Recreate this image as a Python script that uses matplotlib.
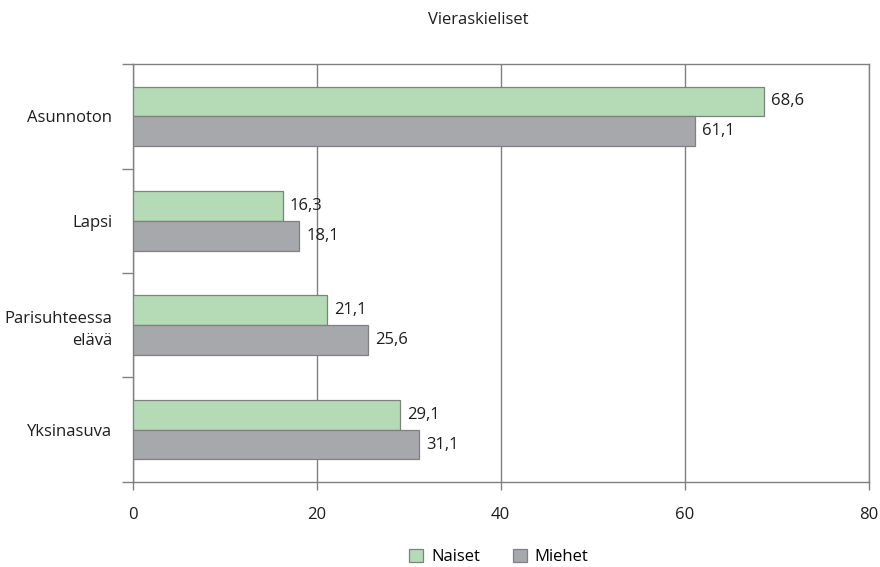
import matplotlib
matplotlib.use('Agg')
import matplotlib.pyplot as plt
import numpy as np
from matplotlib.patches import Patch

# data
categories = ['Asunnoton', 'Lapsi', 'Parisuhteessa\nelävä', 'Yksinasuva']
naiset = [68.6, 16.3, 21.1, 29.1]
miehet = [61.1, 18.1, 25.6, 31.1]
series_names = ['Naiset', 'Miehet']
xticks = [0, 20, 40, 60, 80]

GREEN = '#b4dbb6'
GREY = '#a7a8ac'
EDGE = '#808080'
TXT = '#1e1e1e'

plt.rcParams['font.family'] = ['Open Sans', 'DejaVu Sans']
plt.rcParams['font.size'] = 12

fig = plt.figure(figsize=(8.8, 5.67), dpi=100)
ax = fig.add_axes([0.151, 0.150, 0.836, 0.737])

y = np.arange(len(categories))
h = 0.285
ax.barh(y - h / 2, naiset, height=h, color=GREEN, edgecolor=EDGE, linewidth=0.9, zorder=3)
ax.barh(y + h / 2, miehet, height=h, color=GREY, edgecolor=EDGE, linewidth=0.9, zorder=3)

# value labels just right of the bar ends
for i in range(len(categories)):
    ax.annotate(('%.1f' % naiset[i]).replace('.', ','), (naiset[i], y[i] - h / 2),
                xytext=(5, 0), textcoords='offset points', va='center', ha='left',
                color=TXT, zorder=4)
    ax.annotate(('%.1f' % miehet[i]).replace('.', ','), (miehet[i], y[i] + h / 2),
                xytext=(5, 0), textcoords='offset points', va='center', ha='left',
                color=TXT, zorder=4)

ax.set_xlim(0, 80)
ax.set_ylim(len(categories) - 0.5, -0.5)
ax.set_xticks(xticks)
ax.set_xticklabels([str(t) for t in xticks])
ax.set_yticks(y)
ax.set_yticklabels(categories, ha='right', multialignment='right', linespacing=1.45)
ax.set_yticks(np.arange(len(categories) + 1) - 0.5, minor=True)

ax.tick_params(axis='y', which='major', length=0, pad=15, colors=TXT)
ax.tick_params(axis='y', which='minor', length=8, color=EDGE, width=1)
ax.tick_params(axis='x', length=6, color=EDGE, width=1, pad=12, labelcolor=TXT)

ax.grid(axis='x', color=EDGE, linewidth=1, zorder=0)
for s in ax.spines.values():
    s.set_color(EDGE)
    s.set_linewidth(1)

fig.text(0.544, 0.965, 'Vieraskieliset', ha='center', va='center', color=TXT)

handles = [Patch(facecolor=GREEN, edgecolor=EDGE, linewidth=0.9),
           Patch(facecolor=GREY, edgecolor=EDGE, linewidth=0.9)]
fig.legend(handles, series_names, loc='center', bbox_to_anchor=(0.567, 0.017), ncol=2,
           frameon=False, handlelength=0.8, handleheight=0.8,
           handletextpad=0.5, columnspacing=2.0, borderpad=0)

fig.savefig('out.png', dpi=100)
